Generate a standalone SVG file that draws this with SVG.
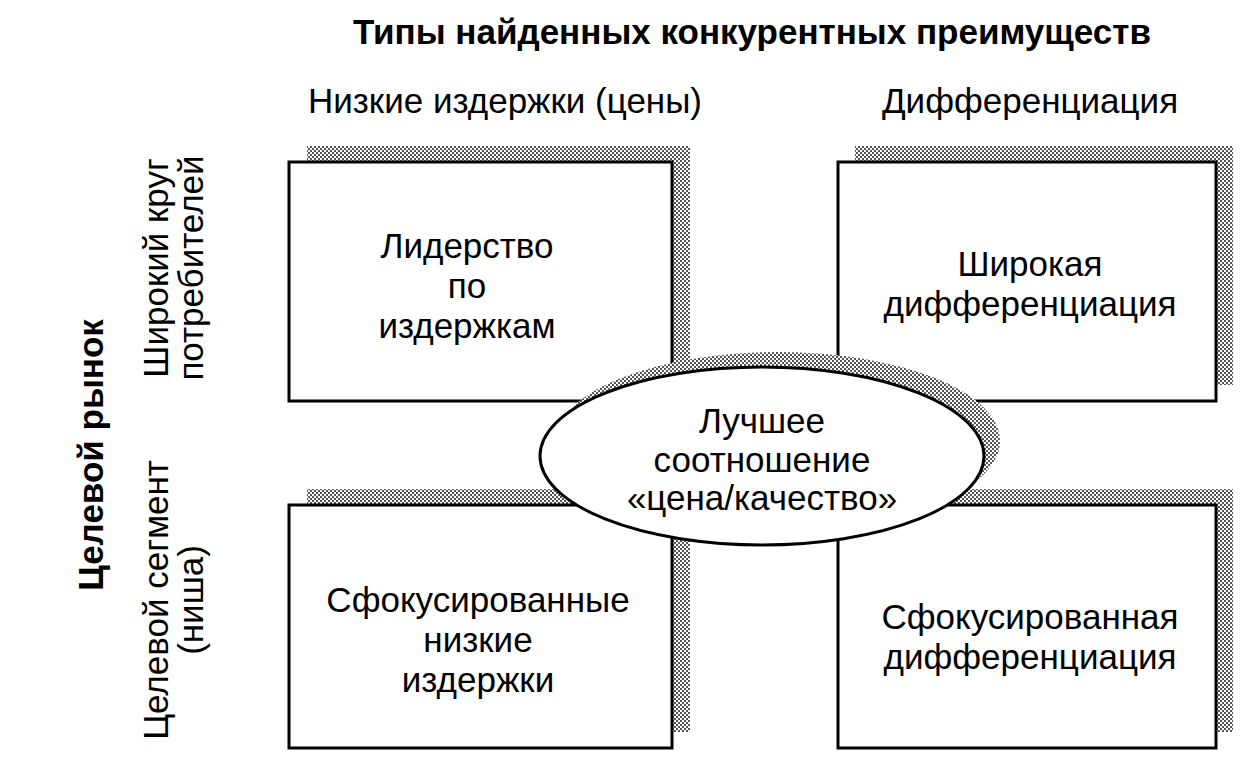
<svg xmlns="http://www.w3.org/2000/svg" width="1255" height="779" viewBox="0 0 1255 779">
<defs>
<pattern id="dots" width="4" height="4" patternUnits="userSpaceOnUse">
<rect width="4" height="4" fill="#fff"/>
<rect width="2" height="2" fill="#555"/>
<rect x="2" y="2" width="2" height="2" fill="#555"/>
</pattern>
</defs>
<style>
.box{fill:#fff;stroke:#000;stroke-width:3}
.sh{fill:url(#dots)}
text{font-family:"Liberation Sans",Arial,sans-serif;fill:#000;text-anchor:middle;font-size:35px}
.b{font-weight:bold}
</style>
<rect width="1255" height="779" fill="#fff"/>
<text class="b" x="752" y="44" font-size="34">Типы найденных конкурентных преимуществ</text>
<text x="505" y="113">Низкие издержки (цены)</text>
<text x="1030" y="113">Дифференциация</text>
<text class="b" transform="translate(103,455) rotate(-90)" font-size="36">Целевой рынок</text>
<text transform="translate(168,268) rotate(-90)" font-size="37">Широкий круг</text>
<text transform="translate(203,268) rotate(-90)" font-size="37">потребителей</text>
<text transform="translate(168,600) rotate(-90)" font-size="37">Целевой сегмент</text>
<text transform="translate(203,600) rotate(-90)" font-size="37">(ниша)</text>
<g id="n1"><rect class="sh" x="307" y="146" width="383" height="239"/><rect class="box" x="289" y="162" width="383" height="239"/>
<text x="467" y="258">Лидерство</text><text x="467" y="298">по</text><text x="467" y="338">издержкам</text></g>
<g id="n2"><rect class="sh" x="855" y="146" width="378" height="239"/><rect class="box" x="838" y="162" width="378" height="239"/>
<text x="1030" y="276">Широкая</text><text x="1030" y="316">дифференциация</text></g>
<g id="n3"><rect class="sh" x="307" y="489" width="383" height="243"/><rect class="box" x="289" y="505" width="383" height="243"/>
<text x="478" y="612">Сфокусированные</text><text x="478" y="652">низкие</text><text x="478" y="692">издержки</text></g>
<g id="n4"><rect class="sh" x="855" y="489" width="378" height="243"/><rect class="box" x="838" y="505" width="378" height="243"/>
<text x="1030" y="629">Сфокусированная</text><text x="1030" y="669">дифференциация</text></g>
<g id="n5"><ellipse class="sh" cx="778" cy="441" rx="222" ry="89"/><ellipse class="box" cx="762" cy="456" rx="222" ry="89"/>
<text x="762" y="433">Лучшее</text><text x="762" y="472">соотношение</text><text x="762" y="510">«цена/качество»</text></g>
<g id="connectors"/>
</svg>
